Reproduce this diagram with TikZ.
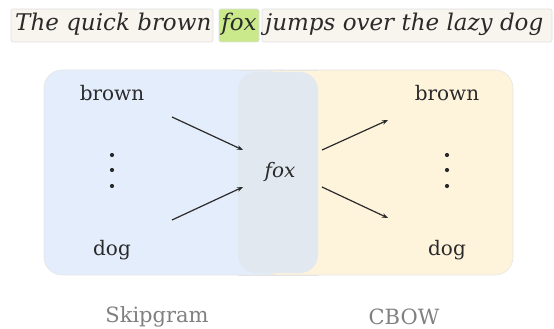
\documentclass[tikz,border=0pt]{standalone}
\usepackage{fontspec}
\setmainfont{DejaVu Serif}
\usetikzlibrary{arrows.meta}

\definecolor{skipblue}{HTML}{E4EDFB}
\definecolor{cbowyellow}{HTML}{FEF4DC}
\definecolor{centergrey}{HTML}{E2E8F0}
\definecolor{paper}{HTML}{F7F5EE}
\definecolor{hilite}{HTML}{C9E98B}
\definecolor{ink}{HTML}{2A2A2A}

\tikzset{
  chunk/.style={rounded corners=2, draw=black!12, line width=0.6pt},
  sentence/.style={anchor=base west, inner sep=0, text=ink, font=\fontsize{23}{27}\selectfont\itshape},
  word/.style={inner sep=0, text=ink, font=\fontsize{20}{24}\selectfont},
  panel/.style={rounded corners=18, draw=black!10, line width=0.6pt},
  arr/.style={-{Stealth[length=6pt,width=4.5pt]}, line width=1.2pt, ink},
  model/.style={inner sep=0, text=black!50, font=\fontsize{21}{25}\selectfont},
}

\begin{document}
\begin{tikzpicture}[x=1pt,y=-1pt]
  \useasboundingbox (0,0) rectangle (554,329);

  % the sentence, fox highlighted
  \filldraw[chunk, fill=paper] (11,9) rectangle (213,42);
  \filldraw[chunk, fill=hilite] (219,9) rectangle (259,42);
  \filldraw[chunk, fill=paper] (262,9) rectangle (552,42);
  \node[sentence] (s1) at (15,31) {The quick brown};
  \node[sentence, anchor=base] (s2) at (239,31) {fox};
  \node[sentence] (s3) at (265,31) {jumps over the lazy dog};

  % two panels and the shared centre word
  \filldraw[panel, fill=skipblue] (44,70) rectangle (300,275);
  \filldraw[panel, fill=cbowyellow] (260,70) rectangle (513,275);
  \fill[centergrey, rounded corners=18] (238,72) rectangle (318,273);
  \draw[black!10, line width=0.6pt] (238,70) -- (318,70) (238,275) -- (318,275);

  \node[word, font=\fontsize{20}{24}\selectfont\itshape] (fox) at (280,172) {fox};

  \node[word] (lbrown) at (112,93) {brown};
  \node[word] (ldog) at (112,250) {dog};
  \node[word] (rbrown) at (447,93) {brown};
  \node[word] (rdog) at (447,250) {dog};
  \foreach \x in {112,447}
    \foreach \y in {155,170,186}
      \fill[ink] (\x,\y) circle (2.1);

  % arrows
  \coordinate (l1) at (172,117);
  \coordinate (l2) at (243,150);
  \coordinate (l3) at (172,220);
  \coordinate (l4) at (243,187);
  \coordinate (r1) at (322,150);
  \coordinate (r2) at (388,120);
  \coordinate (r3) at (322,187);
  \coordinate (r4) at (388,218);
  \draw[arr] (l1) -- (l2);
  \draw[arr] (l3) -- (l4);
  \draw[arr] (r1) -- (r2);
  \draw[arr] (r3) -- (r4);

  \node[model] (skip) at (157,317) {Skipgram};
  \node[model] (cbow) at (404,317) {CBOW};
\end{tikzpicture}
\end{document}
